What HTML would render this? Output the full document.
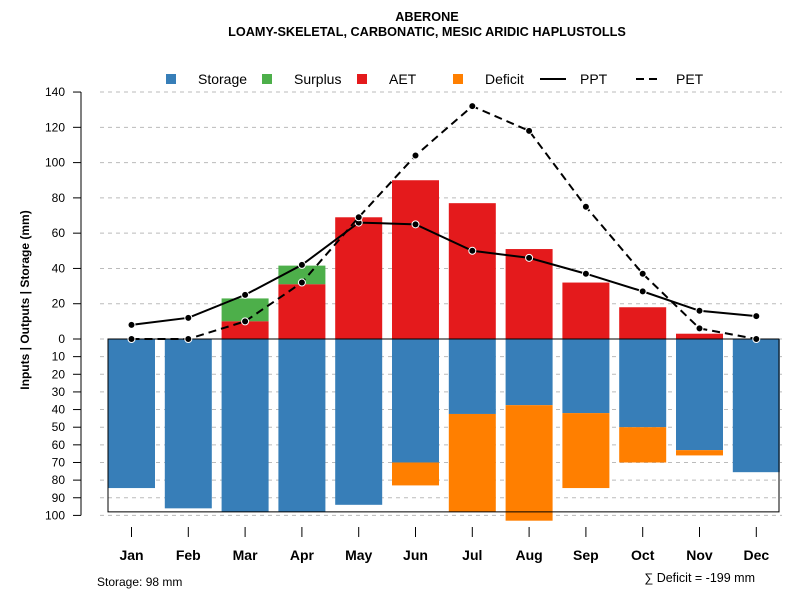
<!DOCTYPE html>
<html><head><meta charset="utf-8"><style>
body{margin:0;background:#fff;font-family:"Liberation Sans",sans-serif}
svg text{font-family:"Liberation Sans",sans-serif}
</style></head><body>
<svg id="c" width="800" height="600" xmlns="http://www.w3.org/2000/svg">
<text x="427" y="21" text-anchor="middle" font-size="12.7" font-weight="bold">ABERONE</text>
<text x="427" y="36" text-anchor="middle" font-size="12.7" font-weight="bold">LOAMY-SKELETAL, CARBONATIC, MESIC ARIDIC HAPLUSTOLLS</text>
<g id="grid"></g><g id="bars"></g><g id="lines"></g><g id="axes"></g>
<g>
<rect x="166" y="74" width="10" height="10" fill="#377eb8"/>
<text x="198" y="84" font-size="14">Storage</text>
<rect x="262" y="74" width="10" height="10" fill="#4daf4a"/>
<text x="294" y="84" font-size="14">Surplus</text>
<rect x="357" y="74" width="10" height="10" fill="#e41a1c"/>
<text x="389" y="84" font-size="14">AET</text>
<rect x="453" y="74" width="10" height="10" fill="#ff7f00"/>
<text x="485" y="84" font-size="14">Deficit</text>
<line x1="540" y1="79" x2="566" y2="79" stroke="#000" stroke-width="2"/>
<text x="580" y="84" font-size="14">PPT</text>
<line x1="636" y1="79" x2="662" y2="79" stroke="#000" stroke-width="2" stroke-dasharray="8,5"/>
<text x="676" y="84" font-size="14">PET</text>
</g>
<text x="97" y="586" font-size="12">Storage: 98 mm</text>
<text x="755" y="582" font-size="12.5" text-anchor="end">∑ Deficit = -199 mm</text>
<text transform="translate(29,300) rotate(-90)" text-anchor="middle" font-size="12" font-weight="bold">Inputs | Outputs | Storage    (mm)</text>
</svg>
<script>
const months=["Jan","Feb","Mar","Apr","May","Jun","Jul","Aug","Sep","Oct","Nov","Dec"];
const storage=[84.5,96,98,98,94,70,42.5,37.5,42,50,63,75.5];
const deficit=[0,0,0,0,0,83,98,103,84.5,70,66,0];
const aet=[0,0,10,31,69,90,77,51,32,18,3,0];
const surplus=[0,0,23,41.6,69,90,77,51,32,18,3,0];
const ppt=[8,12,25,42,66,65,50,46,37,27,16,13];
const pet=[0,0,10,32,69,104,132,118,75,37,6,0];
const upTicks=[0,20,40,60,80,100,120,140];
const downTicks=[10,20,30,40,50,60,70,80,90,100];
const storageCap=98;
const NS="http://www.w3.org/2000/svg";
const y0=339,k=1.764;
const yUp=v=>y0-v*k, yDn=v=>y0+v*k;
const xC=i=>131.5+i*56.8;
const bw=47;
function mk(p,t,a){const e=document.createElementNS(NS,t);for(const n in a)e.setAttribute(n,a[n]);document.getElementById(p).appendChild(e);return e;}
const lines=[...upTicks.map(yUp),...downTicks.map(yDn)];
lines.forEach(y=>{const e=mk('grid','line',{x1:100,x2:782,y1:y,y2:y,stroke:'#bbb','stroke-dasharray':'4,4'});

});
months.forEach((m,i)=>{const x=xC(i)-bw/2;
let e=mk('bars','rect',{x:x,y:y0,width:bw,height:storage[i]*k,fill:'#377eb8'});


if(deficit[i]>storage[i]){e=mk('bars','rect',{x:x,y:yDn(storage[i]),width:bw,height:(deficit[i]-storage[i])*k,fill:'#ff7f00'});

}
if(surplus[i]>aet[i]){e=mk('bars','rect',{x:x,y:yUp(surplus[i]),width:bw,height:(surplus[i]-aet[i])*k,fill:'#4daf4a'});

}
if(aet[i]>0){e=mk('bars','rect',{x:x,y:yUp(aet[i]),width:bw,height:aet[i]*k,fill:'#e41a1c'});

}
});
let b=mk('bars','rect',{x:108,y:y0,width:671,height:storageCap*k,fill:'none',stroke:'#000','stroke-width':1});


b=mk('bars','line',{x1:108,x2:779,y1:y0,y2:y0,stroke:'#000'});


[[ppt,'','ppt'],[pet,'8,5','pet']].forEach(([d,da,n])=>{
const e=mk('lines','polyline',{points:d.map((v,i)=>xC(i)+','+yUp(v)).join(' '),fill:'none',stroke:'#000','stroke-width':2,'stroke-dasharray':da});


d.forEach((v,i)=>{const c=mk('lines','circle',{cx:xC(i),cy:yUp(v),r:3.5,fill:'#000',stroke:'#fff','stroke-width':1});

});
});
let a=mk('axes','line',{x1:81,x2:81,y1:yUp(140),y2:yDn(100),stroke:'#000'});


upTicks.forEach(v=>{mk('axes','line',{x1:73,x2:81,y1:yUp(v),y2:yUp(v),stroke:'#000'});
const t=mk('axes','text',{x:65,y:yUp(v)+4,'text-anchor':'end','font-size':12});t.textContent=v;

});
downTicks.forEach(v=>{mk('axes','line',{x1:73,x2:81,y1:yDn(v),y2:yDn(v),stroke:'#000'});
const t=mk('axes','text',{x:65,y:yDn(v)+4,'text-anchor':'end','font-size':12});t.textContent=v;

});
months.forEach((m,i)=>{mk('axes','line',{x1:xC(i),x2:xC(i),y1:527,y2:537,stroke:'#000'});
const t=mk('axes','text',{x:xC(i),y:560,'text-anchor':'middle','font-size':14,'font-weight':'bold'});t.textContent=m;

});
</script>
</body></html>
